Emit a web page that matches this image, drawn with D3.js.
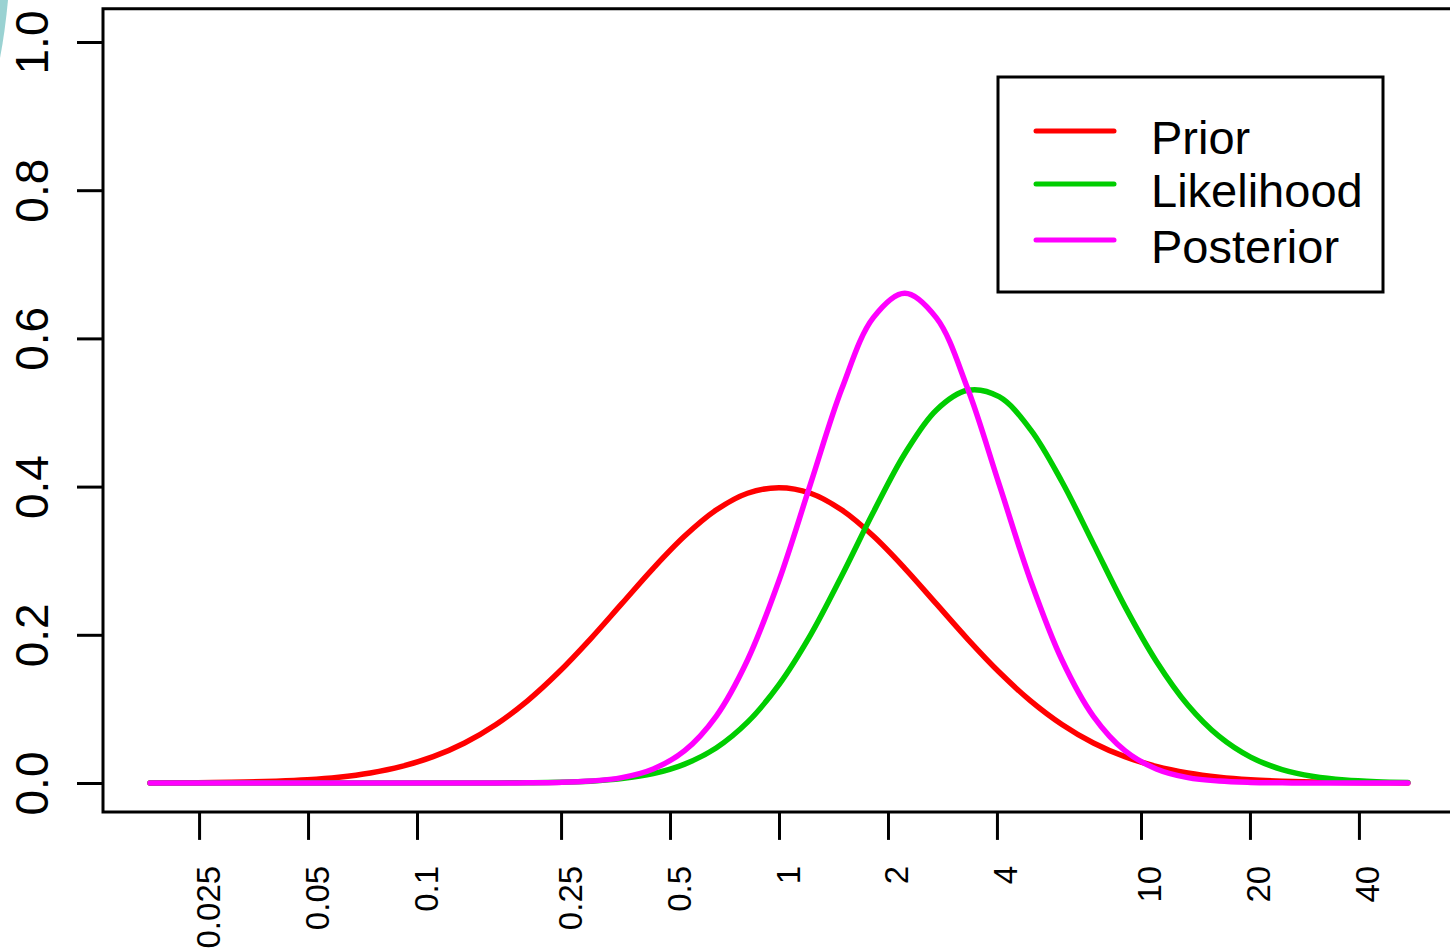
<!DOCTYPE html>
<html>
<head>
<meta charset="utf-8">
<script src="https://cdn.jsdelivr.net/npm/d3@7"></script>
<style>
  html, body { margin: 0; padding: 0; background: #fff; }
  svg { display: block; font-family: "Liberation Sans", Arial, sans-serif; }
</style>
</head>
<body>
<svg id="chart" width="1450" height="948"></svg>
<script>
// ---- data ----
const xValues = [0.0183,0.0224,0.0273,0.0334,0.0408,0.0498,0.0608,0.0743,0.0907,0.1108,0.1353,0.1653,0.2019,0.2466,0.3012,0.3679,0.4493,0.5488,0.6703,0.8187,1,1.2214,1.4918,1.8221,2.2255,2.7183,3.3201,4.0552,4.953,6.0496,7.3891,9.025,11.023,13.464,16.445,20.086,24.533,29.964,36.598,44.701,54.598];
const prior = [0.0001,0.0003,0.0006,0.0012,0.0024,0.0044,0.0079,0.0136,0.0224,0.0355,0.0540,0.0790,0.1109,0.1497,0.1942,0.2420,0.2897,0.3332,0.3683,0.3910,0.3985,0.3910,0.3683,0.3332,0.2897,0.2420,0.1942,0.1497,0.1109,0.0790,0.0540,0.0355,0.0224,0.0136,0.0079,0.0044,0.0024,0.0012,0.0006,0.0003,0.0001];
const likelihood = [0,0,0,0,0,0,0,0,0,0,0,0.0001,0.0004,0.0010,0.0025,0.0059,0.0127,0.0255,0.0473,0.0821,0.1328,0.1996,0.2800,0.3653,0.4443,0.5032,0.5300,0.5213,0.4769,0.4065,0.3227,0.2384,0.1644,0.1053,0.0628,0.0349,0.0181,0.0088,0.0039,0.0016,0.0006];
const posterior = [0,0,0,0,0,0,0,0,0,0,0,0,0.0002,0.0008,0.0026,0.0073,0.0190,0.0437,0.0900,0.1660,0.2733,0.4033,0.5323,0.6280,0.6610,0.6280,0.5323,0.4033,0.2733,0.1660,0.0900,0.0437,0.0190,0.0073,0.0026,0.0008,0.0002,0,0,0,0];
const seriesNames = ["Prior", "Likelihood", "Posterior"];
const seriesColors = ["#ff0000", "#00cd00", "#ff00ff"];
const xTicks = [0.025, 0.05, 0.1, 0.25, 0.5, 1, 2, 4, 10, 20, 40];
const xTickLabels = ["0.025", "0.05", "0.1", "0.25", "0.5", "1", "2", "4", "10", "20", "40"];
const yTicks = [0, 0.2, 0.4, 0.6, 0.8, 1.0];
const yTickLabels = ["0.0", "0.2", "0.4", "0.6", "0.8", "1.0"];

// ---- layout ----
const svg = d3.select("#chart");
const plotLeft = 103, plotRight = 1455;
const x = d3.scaleLog().domain([Math.exp(-4.3), Math.exp(4.3)]).range([plotLeft, plotRight]);
const y = d3.scaleLinear().domain([0, 1]).range([783, 42]);

// decorative arc in the corner
svg.append("path")
  .attr("d", "M0,0 L8,0 Q5,32 0,58 Z")
  .attr("fill", "#9ad2d2");

// curves
const series = [prior, likelihood, posterior];
const line = d3.line()
  .x((d, i) => x(xValues[i]))
  .y(d => y(d))
  .curve(d3.curveCatmullRom.alpha(0.5));

series.forEach((s, k) => {
  svg.append("path")
    .datum(s)
    .attr("d", line)
    .attr("fill", "none")
    .attr("stroke", seriesColors[k])
    .attr("stroke-width", 5.5)
    .attr("stroke-linecap", "round")
    .attr("stroke-linejoin", "round");
});

// plot box
const boxTop = y(1.045), boxBottom = y(-0.039);
svg.append("path")
  .attr("d", `M${plotRight + 10},${boxTop} L${plotLeft},${boxTop} L${plotLeft},${boxBottom} L${plotRight + 10},${boxBottom}`)
  .attr("fill", "none")
  .attr("stroke", "#000")
  .attr("stroke-width", 3);

// y axis
const yAxis = svg.append("g")
  .attr("transform", `translate(${plotLeft},0)`)
  .call(d3.axisLeft(y).tickValues(yTicks).tickSize(26)
    .tickFormat((d, i) => yTickLabels[i]));
yAxis.select(".domain").remove();
yAxis.selectAll(".tick line").attr("stroke", "#000").attr("stroke-width", 3);
yAxis.selectAll(".tick text")
  .attr("transform", "rotate(-90)")
  .attr("x", 0).attr("y", -55).attr("dy", 0)
  .attr("text-anchor", "middle")
  .attr("fill", "#000")
  .style("font-size", "46px")
  .style("font-family", '"Liberation Sans", Arial, sans-serif');

// x axis
const xAxis = svg.append("g")
  .attr("transform", `translate(0,${boxBottom})`)
  .call(d3.axisBottom(x).tickValues(xTicks).tickSize(28)
    .tickFormat((d, i) => xTickLabels[i]));
xAxis.select(".domain").remove();
xAxis.selectAll(".tick line").attr("stroke", "#000").attr("stroke-width", 3);
xAxis.selectAll(".tick text")
  .attr("transform", "rotate(-90)")
  .attr("x", -54).attr("y", 20).attr("dy", 0)
  .attr("text-anchor", "end")
  .attr("fill", "#000")
  .style("font-size", "33px")
  .style("font-family", '"Liberation Sans", Arial, sans-serif');

// legend
const lg = svg.append("g");
lg.append("rect")
  .attr("x", 998).attr("y", 77).attr("width", 385).attr("height", 215)
  .attr("fill", "#fff").attr("stroke", "#000").attr("stroke-width", 3);
const legendY = [131, 184, 240];
seriesNames.forEach((name, k) => {
  lg.append("line")
    .attr("x1", 1036).attr("x2", 1114)
    .attr("y1", legendY[k]).attr("y2", legendY[k])
    .attr("stroke", seriesColors[k]).attr("stroke-width", 5)
    .attr("stroke-linecap", "round");
  lg.append("text")
    .attr("x", 1151).attr("y", legendY[k] + 23)
    .attr("fill", "#000")
    .style("font-size", "47px")
    .text(name);
});
</script>
</body>
</html>
